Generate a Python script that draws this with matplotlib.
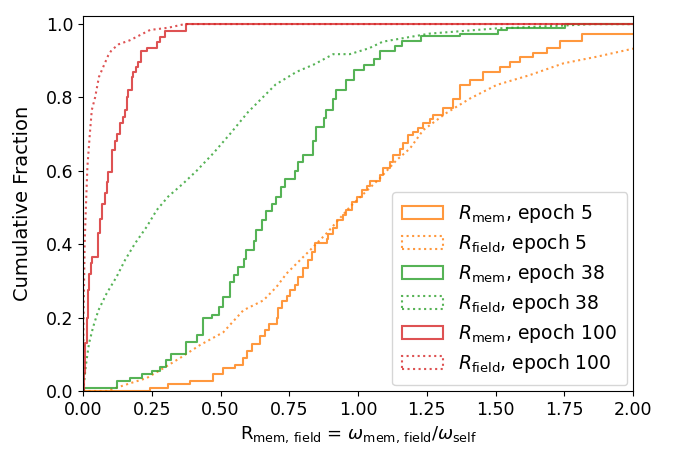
import matplotlib
matplotlib.use('Agg')
import matplotlib.pyplot as plt
import matplotlib.patches as mpatches

# step CDFs: x of each jump, level after the jump
mem5_x = [0.0, 0.243, 0.31, 0.389, 0.474, 0.508, 0.553, 0.583, 0.595, 0.613, 0.643, 0.66, 0.675, 0.704, 0.71,
          0.722, 0.74, 0.753, 0.771, 0.78, 0.80, 0.819, 0.831, 0.843, 0.886, 0.89, 0.91, 0.922, 0.946, 0.955,
          0.977, 0.995, 1.013, 1.032, 1.044, 1.08, 1.092, 1.116, 1.128, 1.152, 1.164, 1.183, 1.2, 1.219, 1.237,
          1.26, 1.274, 1.31, 1.347, 1.371, 1.407, 1.456, 1.516, 1.553, 1.589, 1.637, 1.686, 1.735, 1.813, 2.05]
mem5_y = [0.0, 0.009, 0.018, 0.027, 0.045, 0.063, 0.072, 0.09, 0.11, 0.129, 0.15, 0.165, 0.182, 0.20, 0.225,
          0.245, 0.26, 0.275, 0.29, 0.311, 0.335, 0.356, 0.38, 0.402, 0.415, 0.429, 0.445, 0.466, 0.48, 0.493,
          0.516, 0.53, 0.548, 0.56, 0.572, 0.59, 0.607, 0.625, 0.643, 0.66, 0.675, 0.697, 0.705, 0.716, 0.73,
          0.74, 0.752, 0.77, 0.797, 0.834, 0.848, 0.87, 0.884, 0.897, 0.909, 0.92, 0.935, 0.955, 0.973, 0.973]

mem38_x = [0.0, 0.005, 0.122, 0.171, 0.213, 0.25, 0.28, 0.30, 0.32, 0.375, 0.415, 0.435, 0.468, 0.495, 0.508,
           0.534, 0.55, 0.565, 0.585, 0.593, 0.62, 0.628, 0.652, 0.665, 0.688, 0.70, 0.72, 0.735, 0.772, 0.78,
           0.80, 0.837, 0.847, 0.876, 0.884, 0.91, 0.92, 0.955, 0.985, 1.022, 1.058, 1.08, 1.136, 1.159, 1.23,
           1.37, 1.51, 1.54, 1.753, 2.05]
mem38_y = [0.0, 0.009, 0.027, 0.036, 0.045, 0.054, 0.066, 0.084, 0.10, 0.134, 0.152, 0.198, 0.207, 0.229, 0.256,
           0.297, 0.315, 0.338, 0.36, 0.384, 0.41, 0.438, 0.465, 0.49, 0.51, 0.529, 0.555, 0.579, 0.60, 0.624,
           0.643, 0.68, 0.72, 0.745, 0.765, 0.795, 0.82, 0.847, 0.875, 0.888, 0.906, 0.927, 0.94, 0.955, 0.967,
           0.974, 0.983, 0.99, 1.0, 1.0]

mem100_x = [0.0, 0.004, 0.008, 0.013, 0.017, 0.022, 0.028, 0.034, 0.056, 0.062, 0.068, 0.08, 0.086, 0.092, 0.104,
            0.116, 0.125, 0.135, 0.147, 0.153, 0.160, 0.165, 0.177, 0.183, 0.193, 0.20, 0.21, 0.232, 0.268, 0.28,
            0.298, 0.375, 2.05]
mem100_y = [0.0, 0.05, 0.13, 0.20, 0.275, 0.32, 0.35, 0.366, 0.43, 0.47, 0.51, 0.54, 0.57, 0.597, 0.657,
            0.68, 0.70, 0.73, 0.747, 0.766, 0.80, 0.82, 0.856, 0.87, 0.884, 0.897, 0.927, 0.935, 0.952, 0.965,
            0.982, 1.0, 1.0]

# field samples are large, curves read as points along the line
field5_x = [0.0, 0.09, 0.122, 0.171, 0.231, 0.292, 0.353, 0.425, 0.51, 0.583, 0.656, 0.704, 0.74, 0.826, 0.886,
            0.971, 1.08, 1.14, 1.189, 1.237, 1.32, 1.407, 1.504, 1.625, 1.747, 1.868, 2.0]
field5_y = [0.0, 0.0, 0.009, 0.021, 0.035, 0.062, 0.09, 0.125, 0.16, 0.22, 0.247, 0.284, 0.32, 0.384, 0.43,
            0.502, 0.58, 0.629, 0.661, 0.711, 0.757, 0.797, 0.834, 0.861, 0.893, 0.911, 0.933]

field38_x = [0.0, 0.005, 0.009, 0.013, 0.022, 0.037, 0.056, 0.086, 0.122, 0.153, 0.189, 0.232, 0.268, 0.31, 0.365,
             0.413, 0.474, 0.534, 0.60, 0.656, 0.70, 0.777, 0.84, 0.91, 0.97, 1.04, 1.09, 1.19, 1.26, 1.5, 1.75,
             1.85, 2.0]
field38_y = [0.0, 0.03, 0.06, 0.084, 0.13, 0.175, 0.22, 0.266, 0.311, 0.357, 0.402, 0.448, 0.493, 0.53, 0.566,
             0.6, 0.648, 0.70, 0.76, 0.802, 0.835, 0.870, 0.89, 0.918, 0.918, 0.934, 0.952, 0.965, 0.974, 0.988, 0.996,
             1.0, 1.0]

field100_x = [0.0, 0.001, 0.002, 0.004, 0.006, 0.01, 0.016, 0.025, 0.032, 0.044, 0.058, 0.074, 0.092, 0.104, 0.13,
              0.171, 0.244, 0.31, 0.37, 2.0]
field100_y = [0.0, 0.1, 0.2, 0.3, 0.4, 0.49, 0.611, 0.702, 0.766, 0.80, 0.856, 0.884, 0.915, 0.929, 0.945,
              0.956, 0.984, 0.99, 1.0, 1.0]

labels = [r'$R_{\rm mem}$, epoch 5', r'$R_{\rm field}$, epoch 5',
          r'$R_{\rm mem}$, epoch 38', r'$R_{\rm field}$, epoch 38',
          r'$R_{\rm mem}$, epoch 100', r'$R_{\rm field}$, epoch 100']

fig = plt.figure(figsize=(6.73, 4.5), dpi=100)
ax = fig.add_axes([83/673, 1 - 391/450, 550/673, 375/450])

lw = 1.5
al = 0.8
curves = [
    (mem5_x, mem5_y, 'tab:orange', '-', True),
    (field5_x, field5_y, 'tab:orange', ':', False),
    (mem38_x, mem38_y, 'tab:green', '-', True),
    (field38_x, field38_y, 'tab:green', ':', False),
    (mem100_x, mem100_y, 'tab:red', '-', True),
    (field100_x, field100_y, 'tab:red', ':', False),
]
handles = []
for (xs, ys, c, ls, is_step), lab in zip(curves, labels):
    if is_step:
        ax.step(xs, ys, where='post', color=c, ls=ls, lw=lw, alpha=al)
    else:
        ax.plot(xs, ys, color=c, ls=ls, lw=lw, alpha=al)
    handles.append(mpatches.Patch(fill=False, edgecolor=c, linestyle=ls, lw=lw, alpha=al, label=lab))

ax.set_xlim(0, 2)
ax.set_ylim(0, 1.022)
ax.set_xticks([0, 0.25, 0.5, 0.75, 1.0, 1.25, 1.5, 1.75, 2.0])
ax.set_yticks([0, 0.2, 0.4, 0.6, 0.8, 1.0])
ax.tick_params(labelsize=12.5)
ax.set_xlabel(r'$\mathrm{R_{mem,\,field}}$ = $\omega_{\mathrm{mem,\,field}}/\omega_{\mathrm{self}}$', fontsize=13)
ax.set_ylabel('Cumulative Fraction', fontsize=14, labelpad=10)
ax.legend(handles=handles, loc='lower right', fontsize=13.5, borderaxespad=0.3,
          handlelength=2.2, labelspacing=0.37, borderpad=0.55)

fig.savefig('out.png', dpi=100)
